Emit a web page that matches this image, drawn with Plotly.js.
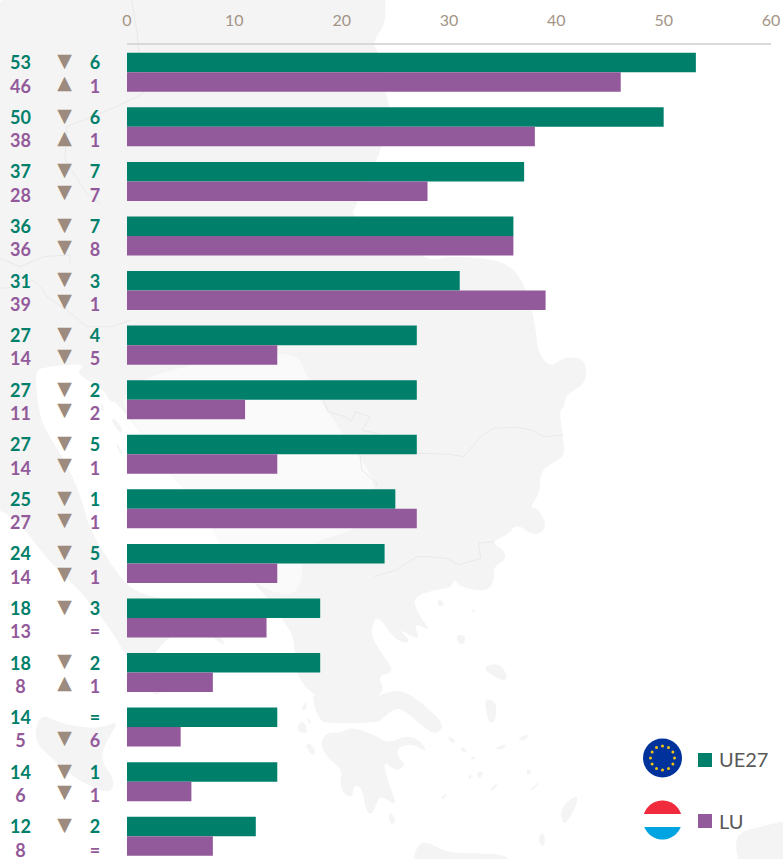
<!DOCTYPE html>
<html><head><meta charset="utf-8">
<script src="https://cdn.plot.ly/plotly-3.0.1.min.js"></script>
<style>html,body{margin:0;padding:0;background:#fff;overflow:hidden}#c{width:783px;height:859px}</style>
</head><body><div id="c"></div>
<script>
const rows = [0,1,2,3,4,5,6,7,8,9,10,11,12,13,14];
const ue27 = [53,50,37,36,31,27,27,27,25,24,18,18,14,14,12];
const lu   = [46,38,28,36,39,14,11,14,27,14,13,8,5,6,8];
const ue27Arrow = ['▼','▼','▼','▼','▼','▼','▼','▼','▼','▼','▼','▼','','▼','▼'];
const luArrow   = ['▲','▲','▼','▼','▼','▼','▼','▼','▼','▼','','▲','▼','▼',''];
const ue27Delta = ['6','6','7','7','3','4','2','5','1','5','3','2','=','1','2'];
const luDelta   = ['1','1','7','8','1','5','2','1','1','1','=','1','6','1','='];
const tickVals = [0,10,20,30,40,50,60];

const GREEN='#00806a', PURPLE='#935a9b', ARROW='#9c8b7e', TICK='#a39587', LAND='#f4f4f4', FONT='Lato, "Open Sans", sans-serif';
const W=771,H=814,L=127,T=45;
const px=(x)=>x/W, py=(y)=>1-(y-T)/H;
const fmt=(q)=>px(q[0]).toFixed(4)+','+py(q[1]).toFixed(4);
function path(pts,conv){conv=conv||(p=>p);return 'M'+pts.map(p=>fmt(conv(p))).join('L')+'Z';}
// rounded outline: quadratic curves through the midpoints of the outline's edges
function smooth(pts,conv){conv=conv||(p=>p);const q=pts.map(conv),n=q.length;const mid=(a,b)=>[(a[0]+b[0])/2,(a[1]+b[1])/2];
 let d='M'+fmt(mid(q[n-1],q[0]));for(let i=0;i<n;i++){d+='Q'+fmt(q[i])+' '+fmt(mid(q[i],q[(i+1)%n]));}return d+'Z';}
const poly=(pts,fill,conv)=>({type:'path',xref:'paper',yref:'paper',layer:'below',path:smooth(pts,conv),fillcolor:fill,line:{width:0}});
const wire=(pts,conv)=>({type:'path',xref:'paper',yref:'paper',layer:'below',path:path(pts,conv).replace('Z',''),line:{width:1,color:'#e9e9e9'}});
const z6=p=>[120+p[0]/2.357,590+p[1]/3], z5=p=>[120+p[0]/2.357,330+p[1]/3], z3=p=>[p[0]/3,590+p[1]/3], z7=p=>[p[0]/3,230+p[1]/3], z1=p=>[p[0]/3,p[1]/3];

const mainland=[[-60,-60],[385,-60],[385,0],[386,23],[372,43],[379,52],[387,100],[391,110],[383,147],[355,207],[351,217],[423,257],[434,260],[451,256],[506,260],[527,287],[536,330],[538,353],[551,368],[563,357],[585,358],[587,383],[565,395],[565,407],[559,410],[563,437],[565,457],[551,463],[540,473],[540,493],[529,508],[538,508],[548,527],[534,537],[517,523],[508,535],[491,542],[504,550],[506,560],[493,567],[495,580],[487,592],[459,587],[455,578],[451,588],[434,590],[413,597],[417,613],[432,632],[413,622],[421,642],[396,627],[413,643],[396,642],[377,613],[370,633],[379,650],[396,673],[377,675],[385,690],[375,697],[400,688],[425,705],[445,725],[436,735],[423,727],[408,713],[396,707],[383,718],[377,723],[332,723],[319,722],[311,693],[321,697],[307,690],[296,673],[294,640],[290,630],[262,590],[230,560],[195,500],[165,470],[130,417],[100,387],[75,373],[87,363],[43,367],[35,372],[38,403],[42,425],[63,457],[80,493],[90,530],[110,563],[130,590],[165,600],[197,597],[228,648],[217,640],[190,625],[165,640],[150,660],[165,690],[153,697],[130,665],[115,635],[80,590],[50,563],[20,523],[0,510],[-60,480]];
const interior=[[160,370],[294,347],[307,377],[324,407],[357,453],[379,487],[362,530],[302,543],[302,597],[262,590],[230,560],[195,500],[165,470],[130,417],[120,395]];
const peloponnese=[[490,425],[520,430],[545,410],[600,435],[625,455],[640,455],[680,435],[710,455],[725,490],[690,460],[650,475],[660,510],[675,525],[650,545],[620,510],[630,570],[655,650],[625,625],[610,620],[595,675],[580,665],[570,590],[550,585],[548,625],[525,610],[518,575],[525,540],[490,505],[470,460]];
const islands=[[[745,45],[755,22],[765,50]],[[825,60],[838,58],[835,70]],[[790,135],[815,135],[812,160],[800,165]],[[852,230],[895,218],[915,260],[905,272],[880,260]],[[860,325],[888,335],[885,395],[870,400],[862,360]],[[770,435],[795,455],[780,460]],[[800,470],[820,480],[810,490]],[[825,500],[843,500],[830,512]],[[880,475],[915,460],[900,482]],[[935,445],[970,430],[950,455]],[[1040,650],[1080,610],[1075,650],[1050,705],[1040,690]],[[870,600],[895,572],[880,603]],[[965,600],[995,568],[975,600]],[[838,550],[857,540],[850,570]],[[820,555],[830,555],[825,570]],[[958,535],[972,545],[960,560]],[[755,625],[772,605],[765,630]],[[632,670],[640,668],[652,695],[638,705]],[[985,740],[1000,725],[1002,768],[990,765]],[[425,360],[440,330],[440,360]],[[440,380],[452,395],[445,405]],[[418,405],[432,390],[445,430],[420,428]],[[435,465],[450,460],[463,490],[450,495]],[[690,900],[690,800],[710,750],[745,770],[780,790],[870,790],[925,800],[930,900]],[[1440,740],[1500,710],[1700,660],[1700,900],[1480,900]]];
const adriaticIslands=[[[320,470],[345,510],[335,520],[315,490]],[[340,560],[370,600],[360,610],[335,575]],[[300,510],[315,540],[305,545]],[[345,630],[370,670],[360,675]]];
const sicily=[[120,370],[170,395],[230,410],[300,415],[360,390],[320,450],[300,510],[345,570],[330,615],[230,570],[150,500],[100,450]];

const shapes=[poly(mainland,LAND),poly(interior,'#fafafa'),poly(peloponnese,LAND,z6),poly(sicily,LAND,z3)];
islands.forEach(i=>shapes.push(poly(i,LAND,z6)));
adriaticIslands.forEach(i=>shapes.push(poly(i,LAND,z7)));
shapes.push(wire([[1045,315],[1000,320],[970,300],[935,292],[880,295],[850,320],[810,380],[770,372],[700,370]],z5));
shapes.push(wire([[565,370],[570,420],[605,460],[605,470]],z5));
shapes.push(wire([[480,210],[490,245],[530,260],[545,275],[555,245],[590,260],[570,300],[610,312]],z5));
shapes.push(wire([[600,740],[650,720],[700,680],[730,680],[770,685],[800,705],[850,685],[845,640],[880,635]],z5));
shapes.push(wire([[0,85],[60,110],[130,80],[210,75],[210,100]],z7));
shapes.push(wire([[0,175],[60,170],[100,150],[130,180],[140,200],[200,240],[260,290],[340,290],[390,270]],z7));
shapes.push(wire([[395,0],[410,90],[430,280],[350,320],[200,380],[195,480],[260,580],[300,610]],z1));

// flags
function disc(cx,cy,r,y0,y1,fill){const pts=[];const a0=Math.asin((y0-cy)/r),a1=Math.asin((y1-cy)/r);
 for(let i=0;i<=24;i++){const a=a0+(a1-a0)*i/24;pts.push([cx+r*Math.cos(a),cy+r*Math.sin(a)]);}
 for(let i=24;i>=0;i--){const a=a0+(a1-a0)*i/24;pts.push([cx-r*Math.cos(a),cy+r*Math.sin(a)]);}
 return {type:'path',xref:'paper',yref:'paper',layer:'above',path:path(pts),fillcolor:fill,line:{width:0}};}
const circ=(cx,cy,r,fill)=>({type:'circle',xref:'paper',yref:'paper',layer:'above',x0:px(cx-r),x1:px(cx+r),y0:py(cy+r),y1:py(cy-r),fillcolor:fill,line:{width:0}});
shapes.push(circ(662.5,758,19.5,'#00329b'));
for(let i=0;i<12;i++){const a=i*Math.PI/6;shapes.push(circ(662.5+12*Math.cos(a),758+12*Math.sin(a),1.5,'#f2c40f'));}
shapes.push(disc(662.5,820,19.5,-19.5+820,814,'#ef2b3d'));
shapes.push(disc(662.5,820,19.5,827,820+19.5,'#00a4e0'));
// legend swatches
const sq=(x0,y0,s,fill)=>({type:'rect',xref:'paper',yref:'paper',layer:'above',x0:px(x0),x1:px(x0+s),y0:py(y0+s),y1:py(y0),fillcolor:fill,line:{width:0}});
shapes.push(sq(698,753,14,GREEN));
shapes.push(sq(698,814,14,PURPLE));

const COL_VAL=20.5, COL_ARROW=64.5, COL_DELTA=95;
const UP=-0.137, DOWN=0.29, AUP=-0.18, ADOWN=0.22;
const shift=(d)=>rows.map(r=>r+d);
const same=(v)=>rows.map(()=>v);
const txt=(col,dy,text,color,size,family)=>({type:'scatter',xaxis:'x2',yaxis:'y',mode:'text',x:same(col),y:shift(dy),text:text,textposition:'middle center',cliponaxis:false,showlegend:false,hoverinfo:'skip',textfont:{family:family||FONT,size:size||18,color:color,weight:700}});

const data=[
 {type:'bar',orientation:'h',name:'UE27',x:ue27,y:rows,marker:{color:GREEN,line:{width:0}},hoverinfo:'x'},
 {type:'bar',orientation:'h',name:'LU',x:lu,y:rows,marker:{color:PURPLE,line:{width:0}},hoverinfo:'x'},
 txt(COL_VAL,UP,ue27,GREEN), txt(COL_VAL,DOWN,lu,PURPLE),
 txt(COL_ARROW,AUP,ue27Arrow,ARROW,19,'"DejaVu Sans"'), txt(COL_ARROW,ADOWN,luArrow,ARROW,19,'"DejaVu Sans"'),
 txt(COL_DELTA,UP,ue27Delta,GREEN), txt(COL_DELTA,DOWN,luDelta,PURPLE)
];
const layout={
 width:783,height:859,margin:{l:0,r:783-W,t:T,b:0,pad:0},
 paper_bgcolor:'#fff',plot_bgcolor:'rgba(0,0,0,0)',showlegend:false,
 barmode:'group',bargap:0.285,bargroupgap:0,hovermode:false,
 xaxis:{domain:[L/W,1],side:'top',anchor:'y',range:[0,60],tickvals:tickVals,ticks:'',showgrid:false,zeroline:false,showline:true,linecolor:'#d9d9d9',linewidth:2,
   tickfont:{family:FONT,size:16,color:TICK},ticklabelstandoff:11},
 xaxis2:{domain:[0,L/W],range:[0,L],anchor:'y',visible:false,showgrid:false,zeroline:false},
 yaxis:{anchor:'x',range:[14.417,-0.5],visible:false,showgrid:false,zeroline:false},
 shapes:shapes,
 annotations:[
  {xref:'paper',yref:'paper',x:px(717),y:py(759),xanchor:'left',yanchor:'middle',showarrow:false,text:'UE27',font:{family:FONT,size:20,color:'#595959'}},
  {xref:'paper',yref:'paper',x:px(717),y:py(821),xanchor:'left',yanchor:'middle',showarrow:false,text:'LU',font:{family:FONT,size:20,color:'#595959'}}
 ]
};
Plotly.newPlot('c',data,layout,{displayModeBar:false,responsive:false});
</script></body></html>
